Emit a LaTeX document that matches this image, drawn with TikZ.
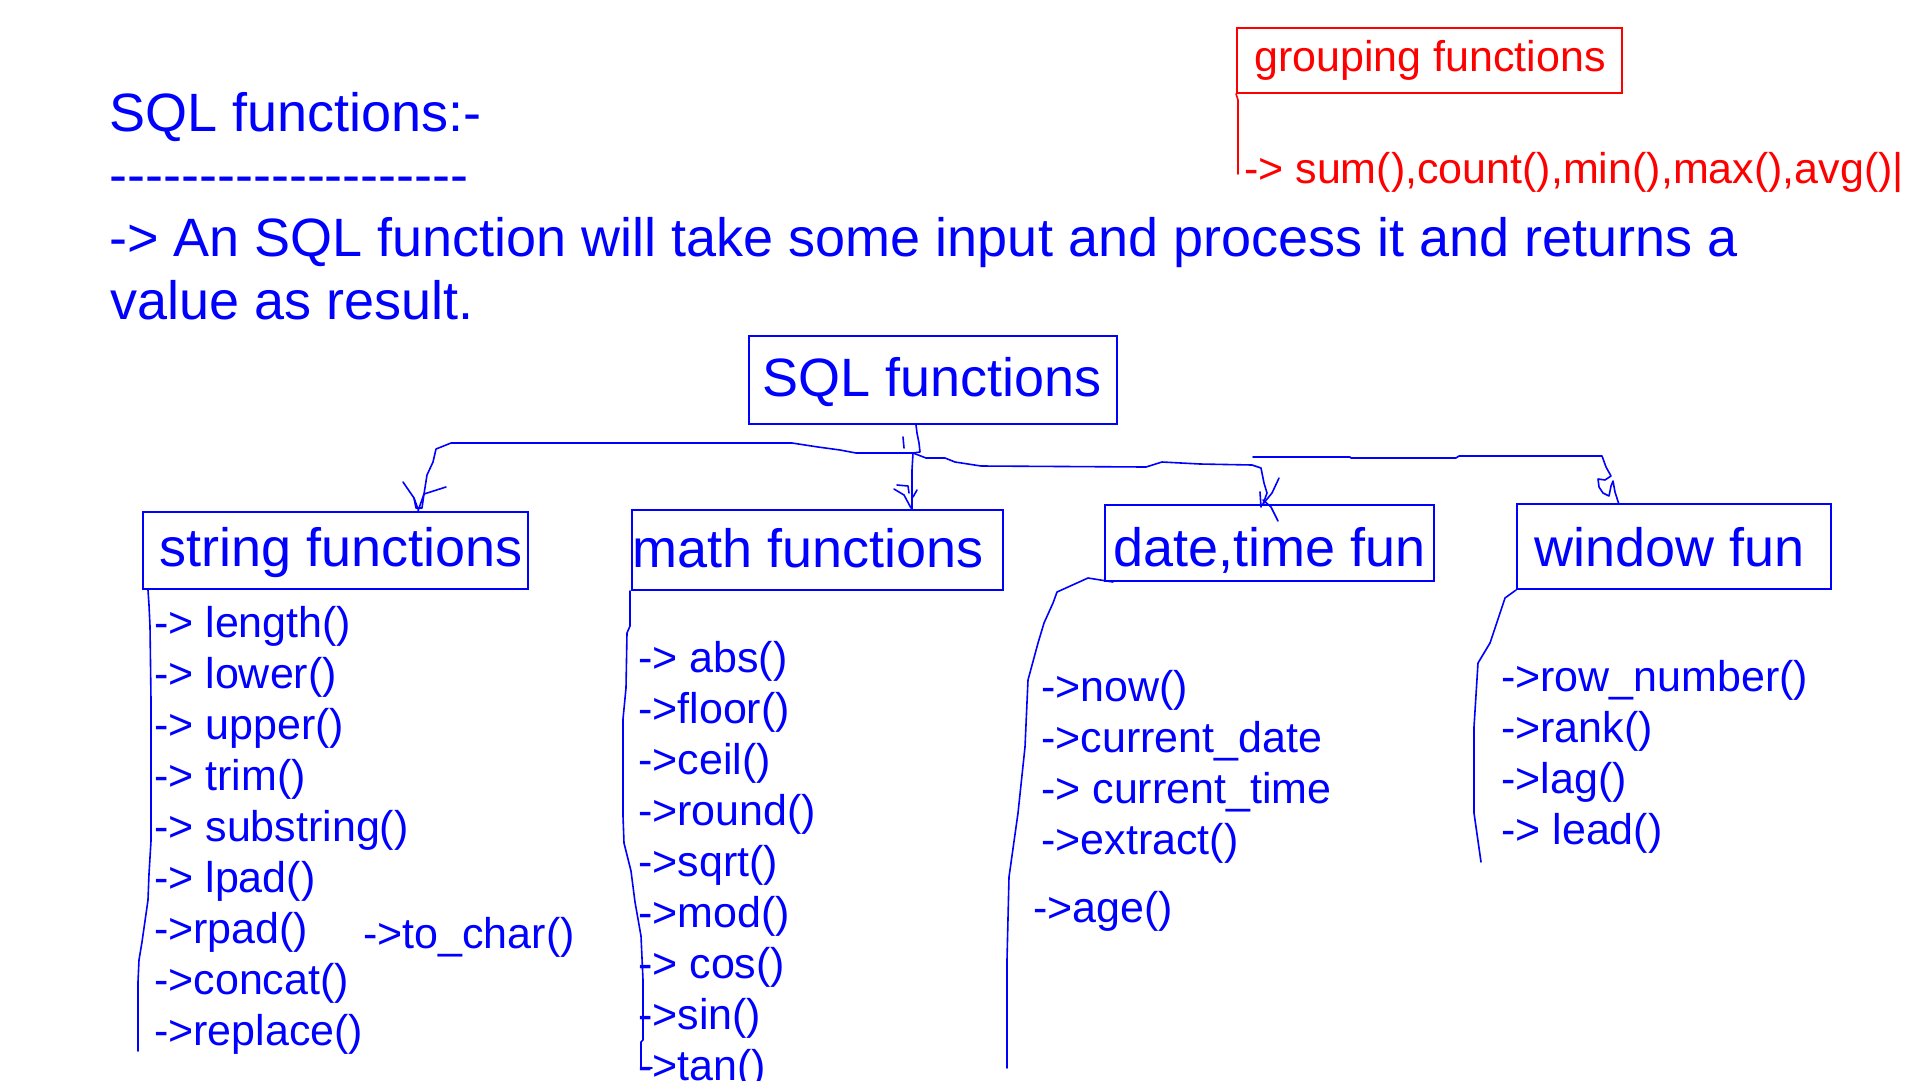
\documentclass[tikz,border=0pt]{standalone}
\usepackage{fontspec}
\setmainfont{Liberation Sans}[Ligatures=TeXOff]
\definecolor{pblue}{RGB}{0,0,255}
\definecolor{pred}{RGB}{255,0,0}
\tikzset{
 big/.style={font=\fontsize{54}{63}\selectfont, text=pblue, inner sep=0pt, anchor=base west},
 item/.style={font=\fontsize{43}{51}\selectfont, text=pblue, inner sep=0pt, anchor=base west},
 ritem/.style={item, text=pred},
 box/.style={draw=pblue, line width=2pt, inner sep=0pt, anchor=north west},
 rbox/.style={box, draw=pred},
 hand/.style={draw=pblue, line width=1.6pt, line join=round, line cap=round},
 rhand/.style={hand, draw=pred},
}
\begin{document}
\begin{tikzpicture}[x=1pt,y=-1pt]
\fill[white] (0,0) rectangle (1920,1080);
\useasboundingbox (0,0) rectangle (1920,1080);

% heading
\node[big] (title) at (109,131) {SQL functions:-};
\node[big] (rule) at (109,193) {--------------------};
\node[big] (intro1) at (109,256) {-> An SQL function will take some input and process it and returns a};
\node[big] (intro2) at (110,319) {value as result.};

% grouping functions (red)
\node[rbox, minimum width=385pt, minimum height=65pt] (grpbox) at (1236,27) {};
\node[ritem] (grptxt) at (1254,71) {grouping functions};
\node[ritem] (grpitems) at (1244,183) {-> sum(),count(),min(),max(),avg()|};
\coordinate (grpend) at (1238,174);
\draw[rhand] (grpbox.south west) -- (1238,100) -- (grpend);

% boxes
\node[box, minimum width=368pt, minimum height=88pt] (sqlbox) at (748,335) {};
\node[big] (sqltxt) at (762,396) {SQL functions};
\node[box, minimum width=385pt, minimum height=77pt] (strbox) at (142,511) {};
\node[big] (strtxt) at (159,566) {string functions};
\node[box, minimum width=371pt, minimum height=80pt] (mathbox) at (631,509) {};
\node[big] (mathtxt) at (632,567) {math functions};
\node[box, minimum width=329pt, minimum height=76pt] (datebox) at (1104,504) {};
\node[big] (datetxt) at (1113,566) {date,time fun};
\node[box, minimum width=314pt, minimum height=85pt] (winbox) at (1516,503) {};
\node[big] (wintxt) at (1534,566) {window fun};

% tree connectors
\coordinate (junc) at (913,453);
\coordinate (tipS) at ([xshift=82.5pt]strbox.north);
\coordinate (tipM) at ([xshift=94.5pt]mathbox.north);
\coordinate (tipD) at ([xshift=-6.5pt]datebox.north);
\coordinate (tipW) at ([xshift=-55.5pt]winbox.north);
\coordinate (wstart) at (1253,457);

\draw[hand] ([xshift=-17pt]sqlbox.south) -- (917,433) -- (919,443) -- (920,452) -- (junc);
\draw[hand] (903,437) -- (904,448);
% left branch
\draw[hand] (junc) -- (856,453) -- (840,450) -- (818,447) -- (792,443) -- (700,443)
  -- (451,443) -- (436,449) -- (433,462) -- (427,475) -- (424,494) -- (tipS);
\draw[hand, shift={(tipS)}] (-15,-29) -- (-4,-13) -- (-2,-3) -- (4,-3) -- (6,-17) -- (28,-24);
\draw[hand, shift={(tipS)}] (-4,-13) -- (0,-2);
% middle branch
\draw[hand] (junc) -- (912,470) -- (912,498) -- (tipM);
\draw[hand, shift={(tipM)}] (-15,-24) -- (-4,-23) -- (-3,-16);
\draw[hand, shift={(tipM)}] (-18,-20) -- (-8,-14) -- (-1,-1);
\draw[hand, shift={(tipM)}] (5,-19) -- (1,-12);
% right branch
\draw[hand] (junc) -- (926,458) -- (945,458) -- (955,462) -- (981,466) -- (1146,467)
  -- (1162,462) -- (1200,464) -- (1252,465) -- (1261,468) -- (1264,483) -- (1267,493) -- (tipD);
\draw[hand, shift={(tipD)}] (16,-26) -- (9,-11) -- (0,0);
\draw[hand, shift={(tipD)}] (-3,-12) -- (-2,3);
\draw[hand, shift={(tipD)}] (0,-4) -- (8,3) -- (15,17);
% window branch
\draw[hand] (wstart) -- (1350,457) -- (1351,458) -- (1456,458) -- (1459,456) -- (1602,456)
  -- (1606,467) -- (1611,476) -- (1605,480) -- (1598,479) -- (1599,487) -- (1603,493)
  -- (1609,496) -- (1611,486) -- (1613,481) -- (1615,492) -- (tipW);

% string list
\foreach \t [count=\i from 0] in {-> length(), -> lower(), -> upper(), -> trim(), -> substring(), -> lpad(), ->rpad(), ->concat(), ->replace()}
  \node[item] (s\i) at (154,{637+51*\i}) {\t};
\node[item] (tochar) at (363,948) {->to\_char()};
\coordinate (strend) at (138,1051);
\draw[hand] ([xshift=6pt]strbox.south west) -- (149,605) -- (150,626) -- (151,700) -- (151,841)
  -- (149,874) -- (148,900) -- (142,942) -- (139,960) -- (138,982) -- (strend);

% math list
\foreach \t [count=\i from 0] in {-> abs(), ->floor(), ->ceil(), ->round(), ->sqrt(), ->mod(), -> cos(), ->sin(), ->tan()}
  \node[item] (m\i) at (638,{672+51*\i}) {\t};
\coordinate (mathend) at (652,1068);
\draw[hand] ([xshift=-1pt]mathbox.south west) -- (630,626) -- (627,633) -- (626,688) -- (623,719)
  -- (623,816) -- (624,843) -- (631,871) -- (635,902) -- (641,936) -- (643,980) -- (643,1040)
  -- (641,1042) -- (641,1068) -- (mathend);

% date list
\foreach \t [count=\i from 0] in {->now(), ->current\_date, -> current\_time, ->extract()}
  \node[item] (d\i) at (1041,{701+51*\i}) {\t};
\node[item] (d4) at (1033,922) {->age()};
\coordinate (dateend) at (1007,1068);
\draw[hand] ([xshift=9pt]datebox.south west) -- (1088,578) -- (1057,592) -- (1053,603) -- (1044,623)
  -- (1038,643) -- (1028,680) -- (1025,747) -- (1018,813) -- (1009,877) -- (1007,960) -- (dateend);

% window list
\foreach \t [count=\i from 0] in {->row\_number(), ->rank(), ->lag(), -> lead()}
  \node[item] (w\i) at (1501,{691+51*\i}) {\t};
\coordinate (winend) at (1481,862);
\draw[hand] (winbox.south west) -- (1505,598) -- (1490,643) -- (1478,663) -- (1474,727)
  -- (1474,813) -- (winend);
\end{tikzpicture}
\end{document}
